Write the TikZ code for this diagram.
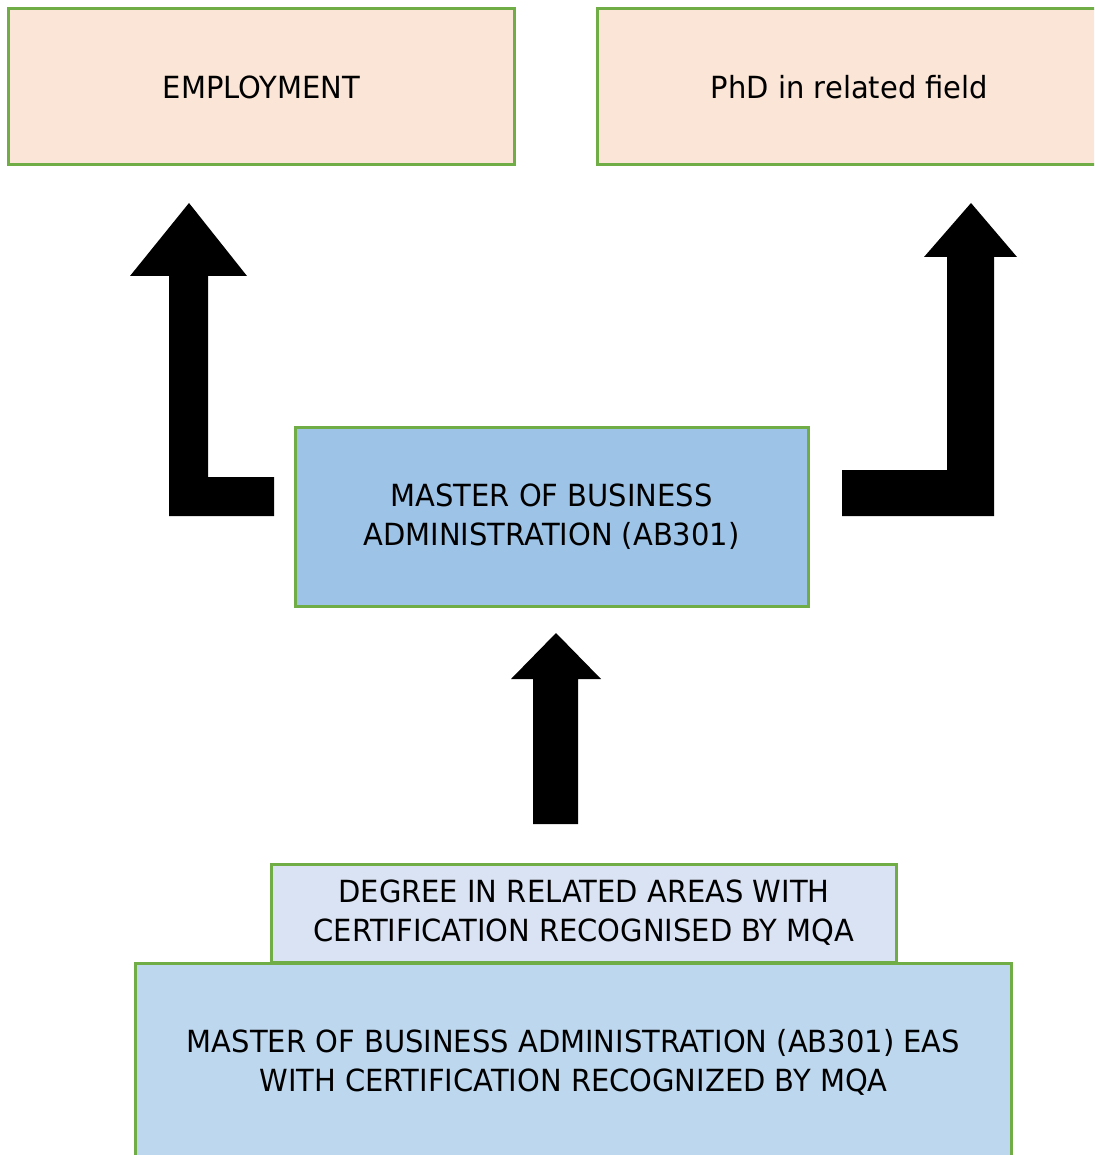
\documentclass[tikz,border=0pt]{standalone}
\usepackage{fontspec}
\setmainfont{DejaVu Sans}[FakeStretch=0.95]
\usepackage{xcolor}
\usetikzlibrary{math}

\definecolor{boxgreen}{HTML}{70AD47}
\definecolor{peach}{HTML}{FBE5D6}
\definecolor{midblue}{HTML}{9DC3E6}
\definecolor{paleblue}{HTML}{DAE3F3}
\definecolor{lightblue}{HTML}{BDD7EE}

\begin{document}
\begin{tikzpicture}[x=1pt, y=-1pt,
  stage/.style={draw=boxgreen, line width=3pt, inner sep=0pt, align=center,
    font=\fontsize{30.5}{39}\selectfont},
  blockarrow/.style={fill=black, draw=none}]
\tikzmath{
\W=1094;
\H=1155;
}
\useasboundingbox (0,0) rectangle (\W,\H);
\clip (0,0) rectangle (\W,\H);

% top row
\node[stage, fill=peach, minimum width=506pt, minimum height=156pt] (job) at (261.5,87) {EMPLOYMENT};
\node[stage, fill=peach, minimum width=504pt, minimum height=156pt] (phd) at (849.5,87) {PhD in related field};

% middle
\node[stage, fill=midblue, minimum width=513pt, minimum height=179pt] (mba) at (551.5,517) {MASTER OF BUSINESS\\ADMINISTRATION (AB301)};

% entry requirements
\node[stage, fill=paleblue, minimum width=625pt, minimum height=98pt] (degree) at (584,913) {DEGREE IN RELATED AREAS WITH\\CERTIFICATION RECOGNISED BY MQA};
\node[stage, fill=lightblue, minimum width=876pt, minimum height=197pt] (eas) at (573.5,1062) {MASTER OF BUSINESS ADMINISTRATION (AB301) EAS\\WITH CERTIFICATION RECOGNIZED BY MQA};

% bent arrows up to the outcomes
\fill[blockarrow] (189,203) -- (247,276) -- (208,276) -- (208,477) -- (274,477) -- (274,516)
  -- (169,516) -- (169,276) -- (130,276) -- cycle;
\fill[blockarrow] (971,203) -- (1017,257) -- (994,257) -- (994,516) -- (842,516) -- (842,470)
  -- (947,470) -- (947,257) -- (924,257) -- cycle;

% straight arrow into the MBA
\fill[blockarrow] (556,633) -- (601,679) -- (578,679) -- (578,824) -- (533,824) -- (533,679)
  -- (511,679) -- cycle;
\end{tikzpicture}
\end{document}
